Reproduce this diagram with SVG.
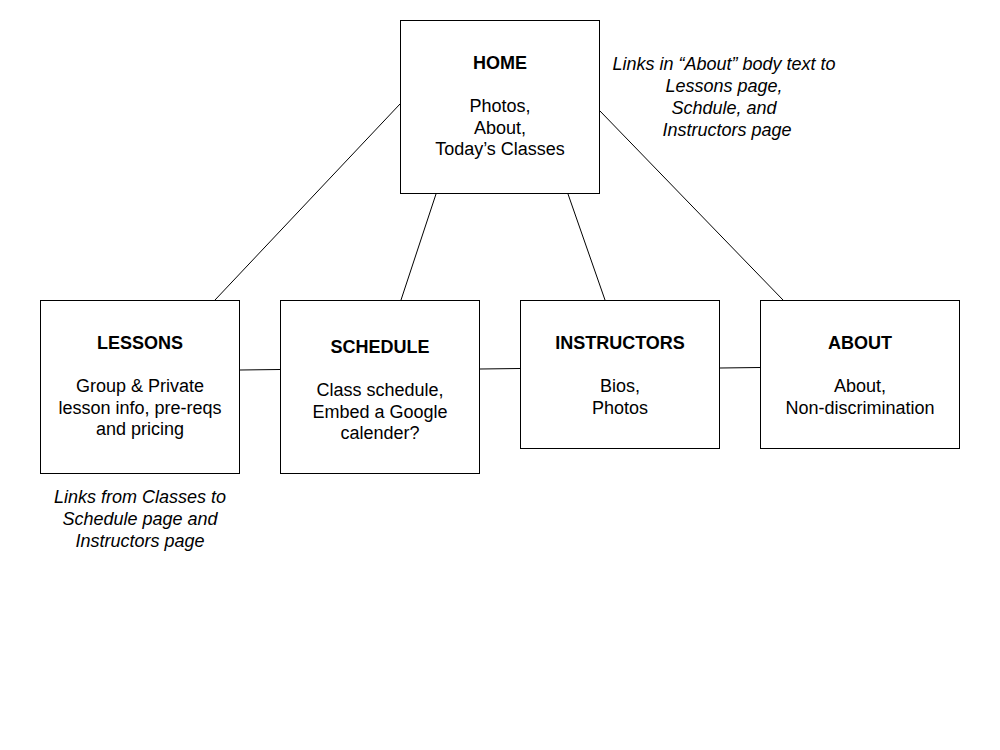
<svg xmlns="http://www.w3.org/2000/svg" width="1000" height="750" viewBox="0 0 1000 750">
<style>
.box{fill:#fff;stroke:#000;stroke-width:1}
.t{font-family:"Liberation Sans",Arial,sans-serif;font-size:18px;fill:#000;text-anchor:middle}
.b{font-weight:bold}
.i{font-style:italic}
.c line{stroke:#000;stroke-width:1}
</style>
<rect width="1000" height="750" fill="#fff"/>
<g id="connectors" class="c">
<line x1="400" y1="104" x2="215" y2="300"/>
<line x1="436" y1="194" x2="401" y2="300"/>
<line x1="568" y1="194" x2="605" y2="300"/>
<line x1="600" y1="111" x2="783" y2="300"/>
<line x1="240" y1="370" x2="280" y2="369.5"/>
<line x1="480" y1="369" x2="520" y2="368.5"/>
<line x1="720" y1="368" x2="760" y2="367.5"/>
</g>
<g id="home">
<rect class="box" x="400.5" y="20.5" width="199" height="173"/>
<text class="t b" x="500" y="69">HOME</text>
<text class="t" x="500" y="112">Photos,</text>
<text class="t" x="500" y="134">About,</text>
<text class="t" x="500" y="155">Today’s Classes</text>
</g>
<g id="lessons">
<rect class="box" x="40.5" y="300.5" width="199" height="173"/>
<text class="t b" x="140" y="349">LESSONS</text>
<text class="t" x="140" y="392">Group &amp; Private</text>
<text class="t" x="140" y="414">lesson info, pre-reqs</text>
<text class="t" x="140" y="435">and pricing</text>
</g>
<g id="schedule">
<rect class="box" x="280.5" y="300.5" width="199" height="173"/>
<text class="t b" x="380" y="353">SCHEDULE</text>
<text class="t" x="380" y="396">Class schedule,</text>
<text class="t" x="380" y="418">Embed a Google</text>
<text class="t" x="380" y="439">calender?</text>
</g>
<g id="instructors">
<rect class="box" x="520.5" y="300.5" width="199" height="148"/>
<text class="t b" x="620" y="349">INSTRUCTORS</text>
<text class="t" x="620" y="392">Bios,</text>
<text class="t" x="620" y="414">Photos</text>
</g>
<g id="about">
<rect class="box" x="760.5" y="300.5" width="199" height="148"/>
<text class="t b" x="860" y="349">ABOUT</text>
<text class="t" x="860" y="392">About,</text>
<text class="t" x="860" y="414">Non-discrimination</text>
</g>
<g id="note-home">
<text class="t i" x="724" y="70">Links in “About” body text to</text>
<text class="t i" x="724" y="92">Lessons page,</text>
<text class="t i" x="724" y="114">Schdule, and</text>
<text class="t i" x="727" y="136">Instructors page</text>
</g>
<g id="note-lessons">
<text class="t i" x="140" y="503">Links from Classes to</text>
<text class="t i" x="140" y="525">Schedule page and</text>
<text class="t i" x="140" y="547">Instructors page</text>
</g>
</svg>
